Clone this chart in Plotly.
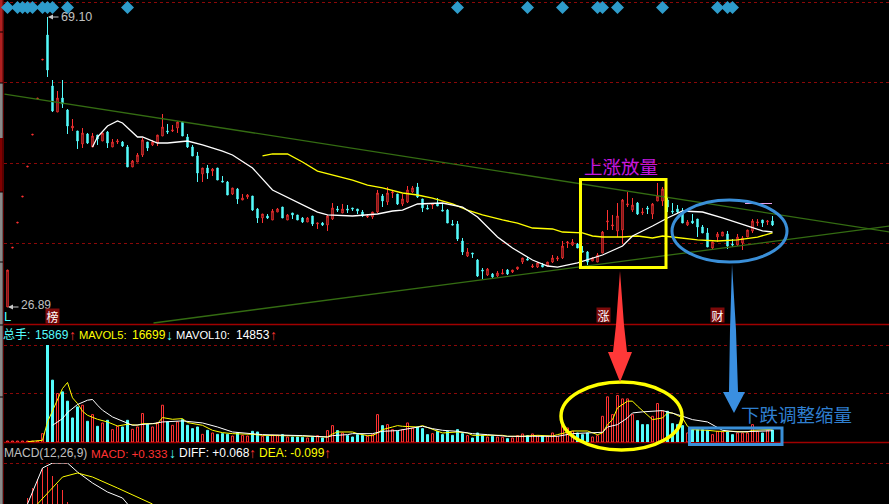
import plotly.graph_objects as go

W, H = 889, 504

opens = [26.89,35.47,39.11,42.90,47.27,51.92,57.17,62.84,66.48,59.06,55.27,57.31,55.56,52.94,52.51,50.61,52.07,50.18,51.92,51.05,
52.36,50.18,50.90,50.90,50.18,47.27,47.99,49.01,50.90,50.47,50.76,51.78,52.51,52.51,52.94,53.82,51.63,50.18,48.87,46.25,
47.12,46.68,47.12,45.23,45.08,43.33,44.06,42.46,42.90,43.04,41.15,39.84,40.13,39.55,40.71,41.44,39.55,40.57,40.28,39.84,
39.26,40.13,38.97,39.11,38.82,39.69,41.15,40.57,41.15,41.30,41.15,40.71,39.98,39.98,40.71,43.04,42.17,43.48,43.33,41.88,
42.17,43.62,44.35,42.61,41.30,41.73,42.02,41.00,41.00,38.97,38.97,36.49,34.31,34.74,33.72,32.27,31.54,31.69,31.39,31.69,
32.27,31.98,32.41,33.43,33.87,32.70,32.70,33.00,32.85,33.43,33.87,34.02,36.20,35.91,36.05,35.03,34.89,33.58,33.43,34.74,
39.26,38.67,37.95,38.09,41.73,41.00,42.02,40.57,41.30,40.42,42.31,42.31,42.46,40.86,41.15,40.57,38.82,39.40,39.69,38.53,
37.66,35.47,37.07,37.22,37.51,36.05,35.91,36.20,37.07,37.95,39.11,39.55,39.26,39.40]
highs = [32.27,35.57,39.21,43.00,47.37,52.02,57.27,62.94,69.10,59.93,58.33,59.93,55.71,54.25,52.51,52.94,52.22,52.22,51.92,52.22,
52.51,51.34,51.34,51.05,50.47,48.28,49.30,51.49,50.90,51.20,51.92,54.98,53.53,53.38,53.96,53.96,52.07,50.47,49.45,47.12,
47.56,47.12,47.12,45.95,45.23,44.21,44.21,43.33,43.33,43.04,41.30,40.42,40.42,41.15,41.30,41.44,40.42,40.57,40.28,39.98,
39.98,40.13,39.11,39.26,40.28,42.02,41.59,41.88,41.73,41.30,41.15,41.00,40.42,40.71,43.92,43.33,44.35,43.92,43.33,43.33,
44.50,44.50,44.94,42.61,41.73,42.02,42.75,42.02,41.15,39.55,39.40,36.93,35.47,34.74,33.87,32.56,32.56,31.83,32.12,32.41,
32.41,32.27,32.70,34.02,34.16,33.14,33.43,33.29,33.43,34.45,34.31,36.49,36.49,36.78,36.20,35.76,35.03,34.16,34.74,37.95,
41.00,40.28,42.02,42.61,43.62,42.75,42.17,41.30,41.59,42.02,44.94,44.35,42.75,42.02,41.73,41.30,39.55,40.42,39.69,38.82,
38.38,36.34,37.80,37.80,37.95,36.78,37.51,37.22,38.09,39.69,39.69,39.55,39.55,40.13]
lows = [26.89,35.47,39.11,42.90,47.27,51.92,57.17,62.84,60.37,55.27,55.27,55.86,52.07,52.51,49.89,50.03,50.61,50.18,50.47,51.05,
50.03,50.18,50.61,50.18,47.27,47.27,47.99,48.72,49.59,50.32,50.32,51.78,52.07,52.36,52.22,51.78,50.03,48.87,45.08,45.08,
45.52,45.95,45.37,45.08,43.19,43.19,41.88,42.46,42.61,40.86,39.11,39.11,39.69,39.55,40.71,39.84,39.55,39.69,39.55,39.11,
39.26,38.67,38.24,38.67,37.95,39.55,40.71,40.57,40.57,40.86,40.42,39.98,39.84,39.69,40.57,41.44,41.73,42.75,41.73,41.59,
42.02,43.48,42.75,40.71,41.15,41.15,41.59,40.86,39.11,38.82,36.49,34.45,34.16,34.02,31.25,30.96,31.39,30.96,31.25,31.69,
31.54,31.83,32.27,33.14,33.72,32.56,32.56,32.70,32.85,33.29,33.58,33.87,35.47,35.76,35.47,34.89,33.00,33.58,33.43,34.74,
38.09,38.09,37.07,36.05,41.44,40.71,40.28,40.28,40.42,39.69,42.31,41.59,40.71,40.42,40.57,39.11,38.67,38.97,37.07,37.66,
35.62,35.33,36.34,37.22,35.33,35.62,35.76,35.18,37.07,37.66,38.67,38.53,38.82,38.67]
closes = [32.27,35.57,39.21,43.00,47.37,52.02,57.27,62.94,61.39,55.42,57.31,56.44,53.23,53.23,51.05,52.22,50.76,51.78,51.34,52.22,
50.76,50.90,51.05,50.32,47.27,48.14,49.01,51.20,50.03,50.90,51.92,53.09,52.36,52.65,53.82,51.78,50.18,48.87,46.39,47.12,
46.39,46.97,45.37,45.08,43.19,44.21,42.61,42.75,43.19,41.00,39.84,40.42,39.84,40.86,41.15,39.84,40.28,40.28,39.55,39.26,
39.84,38.97,39.11,38.82,40.13,41.30,41.00,41.15,41.00,41.15,40.86,40.13,40.13,40.71,43.48,42.31,43.48,43.62,41.88,42.61,
43.92,44.21,42.90,41.30,41.15,41.88,41.59,40.86,39.11,38.82,36.78,34.89,34.89,34.60,31.39,32.12,32.41,31.25,31.83,31.83,
31.69,32.27,32.70,34.02,33.72,32.85,33.29,32.70,33.43,34.02,34.02,35.76,36.34,36.34,35.47,34.89,33.43,34.02,34.45,37.80,
39.40,38.82,40.13,42.46,41.88,41.73,40.42,40.71,41.15,41.88,43.04,44.06,41.44,40.71,40.71,39.11,39.26,39.11,38.53,37.66,
35.62,36.34,37.51,37.80,35.76,35.91,37.07,36.93,38.09,39.40,39.26,39.11,39.40,38.82]

volumes = [1300,1300,1300,1300,1300,1300,1300,11000,127800,81500,63900,66100,53800,31700,46300,48500,27300,36100,20700,25100,
28600,16300,20700,19800,28600,16700,19800,37500,23400,19800,25600,48500,26400,22000,26400,29500,22000,17600,19800,10100,
15400,11900,10100,11000,10100,7900,12300,8800,7900,14100,13200,7500,7500,8800,8800,9700,6600,6600,6600,6200,
5300,6200,8400,5300,15000,21600,15000,11900,8400,6600,9700,8800,7500,9700,36100,21600,22900,16300,14100,16300,
25100,18500,19800,17600,9700,11000,14100,9700,14100,8800,16300,11000,8400,5300,11900,8800,6600,7500,6600,6200,
4400,5300,8400,10600,8400,10600,8400,7500,7500,11900,7500,22900,18500,14100,11900,9700,11900,6600,8400,33900,
59500,36100,61300,56800,56800,36100,28200,22900,22900,33900,50700,40500,40500,24200,22900,21600,11900,16300,16300,16300,
15400,9700,14100,13200,13200,9700,11900,11900,11900,22900,14100,11900,15400,15869]
volume_dir = ("rrrrrrrr" "ccrccccrcr" "crcrrccrrr" "crrrcrrccc" "crcrcccrcr" "rccrcrrcrc" "ccrcrcrrcr" "ccccrrrcrr"
              "crrrcccrcc" "ccccrcccrc" "rrcrrrcrrc" "rrrrrrcccr" "rrrrrrrrcc" "crrrccccrc" "cccrrrccrr" "rrrcrc")

ma_white_idx = [17,18,20,22,23,26,27,30,32,36,39,43,45,49,53,57,59,62,64,69,74,77,79,82,87,91,94,98,101,105,108,110,114,116,119,123,125,129,132,135,139,143,146,151,153]
ma_white = [50.18,51.63,53.23,53.96,53.67,51.63,51.63,50.76,50.76,51.05,50.47,49.59,49.01,47.12,43.92,42.46,41.73,40.71,40.28,40.13,40.42,40.86,41.00,41.88,42.02,41.44,39.98,37.07,35.47,33.72,32.85,32.70,33.29,33.72,34.45,35.76,37.22,38.67,39.84,40.86,40.71,39.84,39.11,37.95,37.80]
ma_yellow_idx = [51,53,56,59,62,65,69,72,75,79,82,85,89,92,95,99,102,105,109,111,115,117,119,123,126,129,131,133,138,142,146,150,153]
ma_yellow = [48.87,49.16,49.16,47.99,46.68,46.10,45.37,44.64,44.21,43.48,43.19,42.75,41.88,41.00,40.28,39.55,39.11,38.38,38.24,37.80,37.66,37.22,37.07,37.07,37.22,36.93,37.22,37.07,36.64,36.49,36.64,37.07,37.66]

mavol5_idx = [4,7,8,10,11,12,13,14,15,16,18,20,22,24,26,27,30,31,33,35,36,39,41,43,45,49,51,59,64,65,66,69,70,72,73,74,75,77,78,79,82,83,85,87,90,92,93,96,99,100,103,106,108,109,110,113,116,117,118,119,120,121,122,124,125,126,128,129,131,132,133,135,136,137,140,142,145,148,149,153]
mavol5 = [400,2200,26400,57300,70500,78400,58200,50700,40500,35200,29900,26400,21100,23400,22000,24200,24200,32200,29900,30800,25600,22000,15400,12300,11000,10100,8800,7900,6600,10600,13200,13200,11000,8400,8400,11900,16300,19800,21600,20700,19800,21600,17200,11900,13200,11900,8800,8800,8800,7500,7500,8800,8800,7900,9700,14500,14500,11900,9700,11900,22900,29500,45000,53800,53800,47200,36100,29500,31700,38300,38300,31700,20700,16300,15400,14100,14100,13200,15400,16699]
mavol10_idx = [9,11,12,14,16,17,18,19,21,23,25,29,31,35,39,42,45,51,59,64,65,68,69,73,75,78,79,82,83,85,87,90,93,96,100,105,110,113,117,119,120,122,124,125,127,131,134,137,140,142,143,146,149,153]
mavol10 = [22000,30800,38800,49400,55100,56000,48500,41900,33000,27300,22000,24200,26400,27800,25100,19800,13200,9700,8400,6600,8400,9700,11000,11000,14100,15000,16300,19800,20700,17600,15400,14100,11000,9700,7500,7500,7500,11000,11900,12800,19800,22900,31700,38300,39700,41400,36100,29500,26400,18500,15400,13200,14100,14853]

macd_idx = [4,5,6,7,8,9,10,11,12]
macd_hist = [2.6,3.6,4.5,5.6,5.7,4.8,4.0,3.4,2.2]
diff_idx = [4,7,9,12,14,17,20,23,24]
diff_line = [2.0,5.6,6.1,6.1,5.2,4.1,3.2,2.6,2.0]
dea_idx = [6,9,11,14,17,22,27,29]
dea_line = [2.0,3.6,4.7,5.1,4.7,3.6,2.4,2.0]

down_trend_idx = [-0.6,176.4]
down_trend = [57.89,37.80]
up_trend_idx = [29.2,176.4]
up_trend = [24.55,38.67]

marker_idx = [0,2,3,4,5,7,8,9,12,24,90,104,111,118,119,122,131,142,144,145]
marker_price = [70.5]*len(marker_idx)

RED, CYAN, YEL = "#ff3232", "#54fcfc", "#ffff00"
GREEN = "#346c12"
xs = list(range(len(opens)))

fig = go.Figure()
for idx, v, c, w in [(down_trend_idx, down_trend, GREEN, 1.3), (up_trend_idx, up_trend, GREEN, 1.3),
                     (ma_yellow_idx, ma_yellow, YEL, 1.3), (ma_white_idx, ma_white, "#ffffff", 1.3)]:
    fig.add_trace(go.Scatter(x=idx, y=v, mode="lines", line=dict(color=c, width=w), showlegend=False, hoverinfo="skip"))

fig.add_trace(go.Candlestick(x=xs, open=opens, high=highs, low=lows, close=closes, whiskerwidth=0,
    increasing=dict(line=dict(color=RED, width=1), fillcolor="#000000"),
    decreasing=dict(line=dict(color=CYAN, width=1), fillcolor=CYAN), showlegend=False))
fig.add_trace(go.Scatter(x=marker_idx, y=marker_price, mode="markers",
    marker=dict(symbol="diamond", size=10, color="#2e9ccb"), showlegend=False, hoverinfo="skip"))

fig.add_trace(go.Bar(x=xs, y=volumes, yaxis="y2", width=0.4,
    marker=dict(color=[CYAN if d == "c" else "rgba(0,0,0,0)" for d in volume_dir],
                line=dict(color=[CYAN if d == "c" else RED for d in volume_dir], width=1)),
    showlegend=False))
for idx, v, c in [(mavol5_idx, mavol5, YEL), (mavol10_idx, mavol10, "#ffffff")]:
    fig.add_trace(go.Scatter(x=idx, y=v, yaxis="y2", mode="lines", line=dict(color=c, width=1), showlegend=False))

fig.add_trace(go.Bar(x=macd_idx, y=macd_hist, yaxis="y3", width=0.2, marker=dict(color=RED, line=dict(width=0)), showlegend=False))
for idx, v, c in [(diff_idx, diff_line, "#ffffff"), (dea_idx, dea_line, YEL)]:
    fig.add_trace(go.Scatter(x=idx, y=v, yaxis="y3", mode="lines", line=dict(color=c, width=1), showlegend=False))

def px(x): return x / W
def py(y): return 1 - y / H

shapes = []
def line(x0, y0, x1, y1, c, w=1, dash="solid"):
    shapes.append(dict(type="line", xref="paper", yref="paper", x0=px(x0), y0=py(y0), x1=px(x1), y1=py(y1),
                       line=dict(color=c, width=w, dash=dash), layer="below"))
def rect(x0, y0, x1, y1, c):
    shapes.append(dict(type="rect", xref="paper", yref="paper", x0=px(x0), y0=py(y0), x1=px(x1), y1=py(y1),
                       fillcolor=c, line=dict(width=0), layer="below"))
def outline(kind, x0, y0, x1, y1, c, w):
    shapes.append(dict(type=kind, xref="paper", yref="paper", x0=px(x0), y0=py(y0), x1=px(x1), y1=py(y1),
                       line=dict(color=c, width=w), fillcolor="rgba(0,0,0,0)", layer="above"))
def poly(pts, c):
    path = "M" + " L".join(f"{px(a):.5f},{py(b):.5f}" for a, b in pts) + " Z"
    shapes.append(dict(type="path", xref="paper", yref="paper", path=path, fillcolor=c, line=dict(width=0), layer="above"))

for y in (2.5, 82.5, 163.5, 243.5, 345.5, 393.5, 463.5):
    line(4, y, W, y, "#8a0808", 1, "dot")
line(3, 324.5, W, 324.5, "#a00000", 1.5)
line(3, 442.5, W, 442.5, "#a00000", 1.5)
line(3.5, 0, 3.5, H, "#5a0000", 1)
rect(0, 0, 2.7, 83, "#b02020")
rect(0, 83, 2.7, 138, "#8a8a8a")
rect(0, 138, 2.7, 192, "#800000")
rect(0, 192, 2.7, H, "#8a8a8a")
for y in (32, 83, 192, 262, 325, 397):
    line(0, y, 3, y, "#000000", 1)
line(745, 203.5, 772, 203.5, "#e8a0e8", 1)

outline("rect", 580.5, 179.5, 666, 267.5, "#ffff00", 3)
outline("circle", 672, 200, 787, 262, "#3a8fd8", 3)
outline("circle", 561, 382, 682, 450, "#ffff00", 3.5)
outline("rect", 689.5, 428, 782, 444.5, "#3a8fd8", 3)
poly([(620, 271), (624, 325), (627, 352), (632, 352), (620, 382), (608, 352), (613, 352), (616, 325)], "#ff3838")
poly([(732, 264), (736, 330), (738, 392), (745, 392), (734, 413), (723, 392), (729, 392), (730, 330)], "#3a8fe0")

ann = []
FONT = "Liberation Sans, Noto Sans CJK SC"
def text(x, y, s, c, size=12, **kw):
    ann.append(dict(xref="paper", yref="paper", x=px(x - 2), y=py(y), text=s, showarrow=False, xanchor="left", yanchor="middle",
                    font=dict(color=c, size=size, family=FONT), **kw))
def tick(x, y, s, c):
    ann.append(dict(xref="paper", yref="paper", x=px(x), y=py(y), text=s, showarrow=False, xanchor="center", yanchor="middle",
                    font=dict(color=c, size=14, family="Liberation Sans")))
def badge(x, y, s):
    ann.append(dict(xref="paper", yref="paper", x=px(x), y=py(y), text=s, showarrow=False, xanchor="center", yanchor="middle",
                    bgcolor="#7d0a0a", width=13, height=14, borderpad=0,
                    font=dict(color="#ffffff", size=12, family="Noto Sans CJK SC")))
def arrow(x, y, dx):
    ann.append(dict(xref="paper", yref="paper", x=px(x), y=py(y), text="", showarrow=True, ax=dx, ay=0,
                    arrowcolor="#c8c8c8", arrowwidth=1, arrowhead=2, arrowsize=1))

text(61, 17, "69.10", "#c0c0c0", 12.5)
text(21, 305, "26.89", "#c0c0c0", 12)
arrow(8, 307, 12)
arrow(48, 17, 12)
text(3.5, 316, "L", CYAN, 13)
badge(52.5, 316, "榜")
badge(603, 315, "涨")
badge(717, 315, "财")

text(3, 335, "总手:", CYAN)
text(35, 335, "15869", CYAN)
tick(72, 335, "↑", RED)
text(79, 335, "MAVOL5:", YEL, 11.2)
text(132, 335, "16699", YEL)
tick(169, 335, "↓", CYAN)
text(176, 335, "MAVOL10:", "#ffffff", 11.2)
text(236, 335, "14853", "#ffffff")
tick(273, 335, "↑", RED)
text(4, 453, "MACD(12,26,9)", "#c0c0c0")
text(91, 453, "MACD: +0.333", RED, 11.6)
tick(172.5, 453, "↓", CYAN)
text(179, 453, "DIFF: +0.068", "#ffffff")
tick(252, 453, "↑", RED)
text(259, 453, "DEA: -0.099", YEL)
tick(327, 453, "↑", RED)
text(584, 168, "上涨放量", "#c418e0", 18.5)
text(741, 415, "下跌调整缩量", "#2f7fd0", 18.5)

fig.update_layout(
    width=W, height=H, autosize=False, margin=dict(l=0, r=0, t=0, b=0),
    paper_bgcolor="#000000", plot_bgcolor="#000000", showlegend=False, barmode="overlay", boxgap=0.6,
    xaxis=dict(range=[-1.5, 176.3], visible=False, rangeslider=dict(visible=False), fixedrange=True),
    yaxis=dict(domain=[1 - 325 / H, 1], range=[24.26, 71.58], visible=False),
    yaxis2=dict(domain=[1 - 442 / H, 1 - 345 / H], range=[0, 127800], visible=False, anchor="x"),
    yaxis3=dict(domain=[0, 1 - 463 / H], range=[2.0, 6.1], visible=False, anchor="x"),
    shapes=shapes, annotations=ann,
)
fig.write_html("out.html", config=dict(displayModeBar=False),
               post_script="document.body.style.margin='0';document.body.style.background='#000';")
